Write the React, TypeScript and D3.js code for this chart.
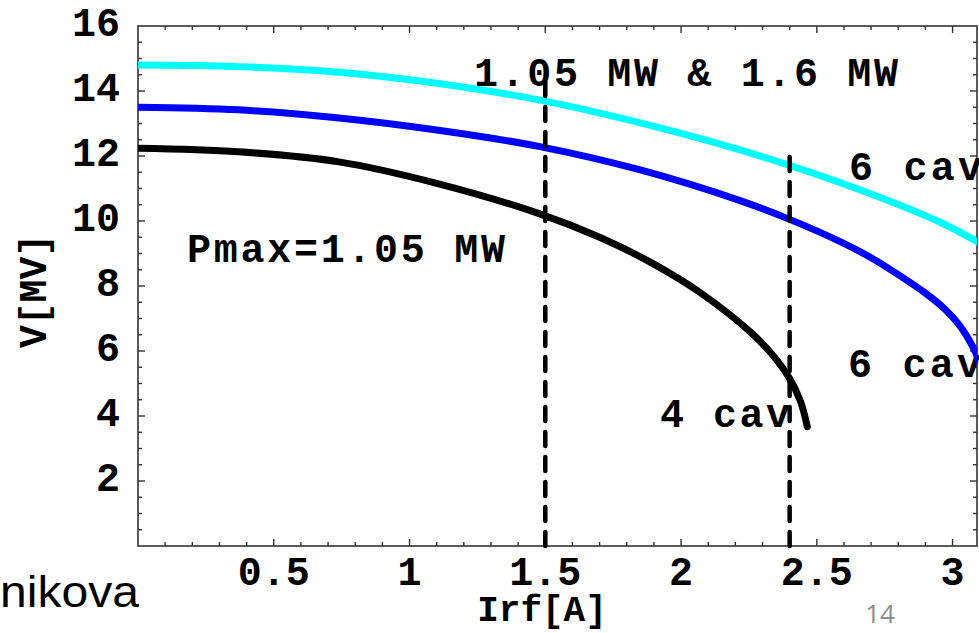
import React from "react";
import * as d3 from "d3";

// ---- data ----
const cyanI = [0, 0.37, 0.74, 1.1, 1.48, 1.85, 2.22, 2.59, 2.96, 3.1];
const cyanV = [14.8, 14.75, 14.58, 14.24, 13.72, 13.02, 12.18, 11.17, 9.94, 9.32];

const blueI = [0, 0.37, 0.74, 1.1, 1.48, 1.85, 2.22, 2.4, 2.59, 2.7, 2.8, 2.9, 2.97, 3.02, 3.06, 3.085, 3.1];
const blueV = [13.5, 13.42, 13.17, 12.8, 12.29, 11.57, 10.62, 10.05, 9.35, 8.87, 8.35, 7.78, 7.3, 6.85, 6.35, 5.95, 5.6];

const blackI = [0, 0.37, 0.74, 1.1, 1.48, 1.7, 1.89, 2.07, 2.26, 2.34, 2.4, 2.44, 2.465];
const blackV = [12.24, 12.13, 11.82, 11.16, 10.22, 9.5, 8.72, 7.8, 6.55, 5.85, 5.15, 4.45, 3.67];

const markerI = [1.5, 2.4];
const markerTop = [14.45, 12.1];

const xMajor = [0.5, 1, 1.5, 2, 2.5, 3];
const xMajorLabels = ["0.5", "1", "1.5", "2", "2.5", "3"];
const yMajor = [2, 4, 6, 8, 10, 12, 14, 16];
const yMajorLabels = ["2", "4", "6", "8", "10", "12", "14", "16"];

const W = 979;
const H = 633;
const L = 138, R = 977, T = 26, B = 546;

export default function App() {
  const x = d3.scaleLinear().domain([0, 3.09]).range([L, R]);
  const y = d3.scaleLinear().domain([0, 16]).range([B, T]);

  const line = d3
    .line<[number, number]>()
    .x((d) => x(d[0]))
    .y((d) => y(d[1]))
    .curve(d3.curveCatmullRom.alpha(0.5));

  const zip = (a: number[], b: number[]) => a.map((v, i) => [v, b[i]] as [number, number]);

  const xMinor = d3.range(1, 31).map((i) => i / 10);
  const yMinor = d3.range(1, 32).map((i) => i / 2);

  const mono = "'Nimbus Mono PS', 'Courier New', Courier, 'Liberation Mono', monospace";
  const tickColor = "#333";

  return (
    <svg
      width={W}
      height={H}
      style={{ position: "fixed", left: 0, top: 0, background: "#fff" }}
      xmlns="http://www.w3.org/2000/svg"
    >
      <rect x={0} y={0} width={W} height={H} fill="#fff" />
      <defs>
        <clipPath id="plotClip">
          <rect x={L} y={T} width={R - L} height={B - T} />
        </clipPath>
      </defs>

      {/* frame */}
      <rect x={L} y={T} width={R - L} height={B - T} fill="none" stroke={tickColor} strokeWidth={1.6} />

      {/* x ticks bottom & top */}
      {xMinor.map((v, i) => {
        const major = Math.abs(v * 2 - Math.round(v * 2)) < 1e-6;
        const len = major ? 7 : 4;
        return (
          <g key={"xt" + i}>
            <line x1={x(v)} x2={x(v)} y1={B} y2={B - len} stroke={tickColor} strokeWidth={1.4} />
            <line x1={x(v)} x2={x(v)} y1={T} y2={T + len} stroke={tickColor} strokeWidth={1.4} />
          </g>
        );
      })}
      {/* y ticks left & right */}
      {yMinor.map((v, i) => {
        const major = Math.abs(v / 2 - Math.round(v / 2)) < 1e-6;
        const len = major ? 7 : 4;
        return (
          <g key={"yt" + i}>
            <line x1={L} x2={L + len} y1={y(v)} y2={y(v)} stroke={tickColor} strokeWidth={1.4} />
            <line x1={R} x2={R - len} y1={y(v)} y2={y(v)} stroke={tickColor} strokeWidth={1.4} />
          </g>
        );
      })}

      {/* tick labels */}
      {xMajor.map((v, i) => (
        <text key={"xl" + i} x={x(v)} y={585} textAnchor="middle" fontFamily={mono} fontWeight="bold" fontSize={40} fill="#000">
          {xMajorLabels[i]}
        </text>
      ))}
      {yMajor.map((v, i) => (
        <text key={"yl" + i} x={120} y={y(v) + 10} textAnchor="end" fontFamily={mono} fontWeight="bold" fontSize={40} fill="#000">
          {yMajorLabels[i]}
        </text>
      ))}

      {/* axis labels */}
      <text x={542} y={621} textAnchor="middle" fontFamily={mono} fontWeight="bold" fontSize={36} fill="#000">
        Irf[A]
      </text>
      <text
        x={46}
        y={291}
        transform="rotate(-90 46 291)"
        textAnchor="middle"
        fontFamily={mono}
        fontWeight="bold"
        fontSize={38}
        fill="#000"
      >
        V[MV]
      </text>

      {/* annotations */}
      <text x={187} y={262} fontFamily={mono} fontWeight="bold" fontSize={40} fill="#000" textLength={318} lengthAdjust="spacing">
        Pmax=1.05 MW
      </text>
      <text x={474} y={86} fontFamily={mono} fontWeight="bold" fontSize={40} fill="#000" textLength={424} lengthAdjust="spacing">
        1.05 MW &amp; 1.6 MW
      </text>
      <text x={849} y={180} fontFamily={mono} fontWeight="bold" fontSize={40} fill="#000" textLength={133} lengthAdjust="spacing">
        6 cav
      </text>
      <text x={848} y={377} fontFamily={mono} fontWeight="bold" fontSize={40} fill="#000" textLength={133} lengthAdjust="spacing">
        6 cav
      </text>
      <text x={660} y={427} fontFamily={mono} fontWeight="bold" fontSize={40} fill="#000" textLength={130} lengthAdjust="spacing">
        4 cav
      </text>

      {/* curves */}
      <g clipPath="url(#plotClip)" fill="none" strokeLinecap="round" strokeLinejoin="round">
        <path d={line(zip(cyanI, cyanV)) || ""} stroke="#00ffff" strokeWidth={7} />
        <path d={line(zip(blueI, blueV)) || ""} stroke="#0000ff" strokeWidth={7} />
        <path d={line(zip(blackI, blackV)) || ""} stroke="#000" strokeWidth={7} />
      </g>

      {/* dashed markers */}
      {markerI.map((v, i) => (
        <line
          key={"m" + i}
          x1={x(v)}
          x2={x(v)}
          y1={y(0)}
          y2={y(markerTop[i])}
          stroke="#000"
          strokeWidth={4.5}
          strokeDasharray="14 11"
          strokeLinecap="round"
        />
      ))}

      {/* slide residue */}
      <text x={0} y={607} fontFamily="'Liberation Sans', Arial, sans-serif" fontSize={44} fill="#000" textLength={139} lengthAdjust="spacingAndGlyphs">
        nikova
      </text>
      <text x={880} y={623} textAnchor="middle" fontFamily="'Open Sans', 'Liberation Sans', sans-serif" fontSize={26} fill="#8c8c8c">
        14
      </text>
    </svg>
  );
}
